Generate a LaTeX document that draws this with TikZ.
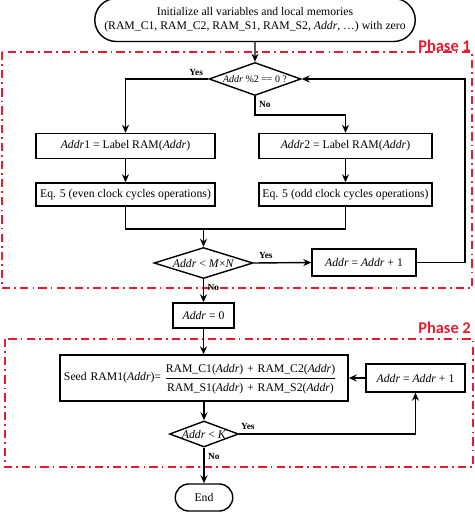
\documentclass[tikz,border=0pt]{standalone}
\usepackage{fontspec}
\setmainfont{Liberation Serif}
\newfontfamily\phasefont{Carlito}
\usepackage{tikz}
\usetikzlibrary{shapes,arrows.meta,positioning,calc}
\definecolor{phasered}{RGB}{232,28,48}

\begin{document}
\begin{tikzpicture}[x=0.03cm, y=-0.03cm,
  flow/.style={-{Stealth[length=2.4mm, width=2.1mm]}, line width=1.2pt},
  link/.style={line width=1.2pt},
  proc/.style={rectangle, draw, line width=1.2pt, align=center, inner sep=1.5pt, font=\fontsize{10}{12}\selectfont},
  term/.style={rounded rectangle, draw, line width=1.2pt, align=center, inner sep=1.5pt, font=\fontsize{10}{12}\selectfont},
  cond/.style={diamond, draw, line width=1.2pt, inner sep=0pt, font=\fontsize{10}{12}\selectfont},
  yesno/.style={font=\fontsize{8}{9}\selectfont\bfseries, inner sep=1pt},
  phase/.style={draw=phasered, line width=1.5pt, dash pattern=on 7pt off 3.5pt on 1.5pt off 3.5pt},
  phaselabel/.style={text=phasered, font=\phasefont\fontsize{14}{16}\selectfont\bfseries, anchor=base east, inner sep=0pt}]
\useasboundingbox (0,0) rectangle (474,512);

\draw[phase] (2,52) rectangle (472,288);
\draw[phase] (5,339) rectangle (473,467);
\node[phaselabel] (p1) at (471,52) {Phase 1};
\node[phaselabel] (p2) at (471,333) {Phase 2};

\node[term, minimum width=9.72cm, minimum height=1.29cm] (start) at (255,20) {Initialize all variables and local memories\\(RAM\_C1, RAM\_C2, RAM\_S1, RAM\_S2, \textit{Addr}, \dots) with zero};
\node[cond, aspect=2.8, minimum width=2.76cm, minimum height=0.99cm, font=\fontsize{8.5}{10}\selectfont] (d1) at (255,79) {\textit{Addr} \%2 == 0 ?};
\node[proc, minimum width=5.37cm, minimum height=0.75cm] (a1) at (125.5,146) {\textit{Addr}1 = Label RAM(\textit{Addr})};
\node[proc, minimum width=5.19cm, minimum height=0.75cm] (a2) at (345.5,146) {\textit{Addr}2 = Label RAM(\textit{Addr})};
\node[proc, minimum width=5.37cm, minimum height=0.69cm] (e1) at (125.5,194.5) {Eq. 5 (even clock cycles operations)};
\node[proc, minimum width=5.19cm, minimum height=0.69cm] (e2) at (345.5,194.5) {Eq. 5 (odd clock cycles operations)};
\node[cond, aspect=3.2, minimum width=2.97cm, minimum height=0.93cm] (d2) at (203.5,263) {\textit{Addr} < \textit{M}×\textit{N}};
\node[proc, minimum width=3.12cm, minimum height=0.81cm] (inc1) at (364,262.5) {\textit{Addr} = \textit{Addr} + 1};
\node[proc, minimum width=1.83cm, minimum height=0.75cm] (zero) at (203.5,315.5) {\textit{Addr} = 0};
\node[proc, minimum width=8.64cm, minimum height=1.38cm, text width=8.4cm, inner xsep=0.12cm, align=left] (seed) at (204,378) {Seed RAM1(\textit{Addr})=\hspace{4pt}\renewcommand\arraystretch{1.35}\begin{tabular}[c]{@{}c@{}}RAM\_C1(\textit{Addr}) + RAM\_C2(\textit{Addr})\\\hline RAM\_S1(\textit{Addr}) + RAM\_S2(\textit{Addr})\end{tabular}};
\node[proc, minimum width=2.97cm, minimum height=0.84cm] (inc2) at (415.5,378) {\textit{Addr} = \textit{Addr} + 1};
\node[cond, aspect=2.65, minimum width=2.07cm, minimum height=0.78cm] (d3) at (204,434) {\textit{Addr} < \textit{K}};
\node[term, minimum width=1.83cm, minimum height=0.81cm] (endn) at (204,497.5) {End};

\draw[flow] (start) -- (d1);
\draw[flow] (d1.west) node[yesno, anchor=south east, xshift=-3pt, yshift=1pt] {Yes} -| (a1.north);
\draw[flow] (d1.south) node[yesno, anchor=north west, xshift=2pt, yshift=-3pt] {No} -- ++(0,19) -| (a2.north);
\draw[flow] (a1) -- (e1);
\draw[flow] (a2) -- (e2);
\coordinate (m) at (203.5,229);
\draw[link] (e1.south) |- (m) -| (e2.south);
\draw[flow] (m) -- (d2.north);
\draw[flow] (d2.east) node[yesno, anchor=south west, xshift=3pt, yshift=2pt] {Yes} -- (inc1.west);
\coordinate (r1) at (465,79);
\draw[flow] (inc1.east) -| (r1) -- (d1.east);
\draw[flow] (d2.south) node[yesno, anchor=north west, xshift=2pt, yshift=-3pt] {No} -- (zero.north);
\draw[flow] (zero.south) -- (zero.south |- seed.north);
\draw[flow] (inc2.west) -- (seed.east |- inc2.west);
\draw[flow] (seed.south -| d3.north) -- (d3.north);
\draw[flow] (d3.east) node[yesno, anchor=south west, xshift=0pt, yshift=2pt] {Yes} -| (inc2.south);
\draw[flow] (d3.south) node[yesno, anchor=north west, xshift=2pt, yshift=-3pt] {No} -- (endn.north);
\end{tikzpicture}
\end{document}
